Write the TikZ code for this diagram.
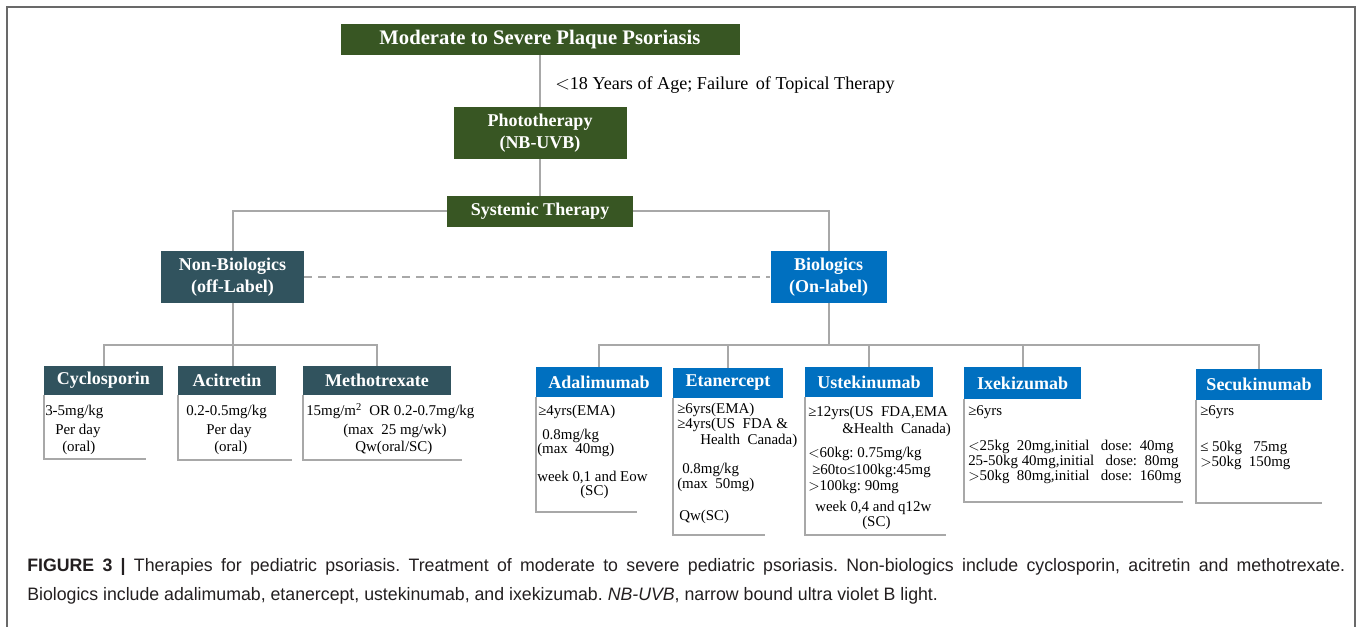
\documentclass[tikz,border=0pt]{standalone}
\usepackage{fontspec}
\setmainfont{Liberation Serif}
\newfontfamily\capfont[FakeStretch=0.985]{Liberation Sans}
\definecolor{boxgreen}{RGB}{56,86,35}
\definecolor{boxslate}{RGB}{49,83,94}
\definecolor{boxblue}{RGB}{0,112,192}
\definecolor{linkgray}{RGB}{168,168,168}
\definecolor{framegray}{RGB}{105,105,105}
\definecolor{captext}{RGB}{35,31,32}
\frenchspacing
\tikzset{
  sz/.style 2 args={minimum width=#1*0.75pt,minimum height=#2*0.75pt},
  box/.style={inner sep=0pt,align=center,text=white,font=\bfseries\fontsize{13.5}{16.5}\selectfont},
  txt/.style={anchor=west,inner sep=0pt,font=\fontsize{11.2}{13}\selectfont},
  link/.style={draw=linkgray,line width=1.5pt},
  textframe/.style={draw=linkgray,line width=1.3pt}
}

\begin{document}
\begin{tikzpicture}[line cap=butt,line join=miter,x=0.75pt,y=-0.75pt]
				\useasboundingbox (0,0) rectangle (1357,627);
				\draw [framegray,line width=1.2pt] (7,627) -- (7,7) -- (1355,7) -- (1355,627);
				% upper part
				\node [box,fill=boxgreen,sz={399}{31},font=\bfseries\fontsize{15.5}{18}\selectfont] (top) at (540,39.5) {Moderate to Severe Plaque Psoriasis};
				\node [box,fill=boxgreen,sz={173}{52}] (photo) at (540,133) {Phototherapy\\(NB-UVB)};
				\node [box,fill=boxgreen,sz={186}{31}] (sys) at (540,211.5) {Systemic Therapy};
				\node [anchor=west,inner sep=0pt,font=\fontsize{13.6}{15}\selectfont] (age) at (555,85) {$<$18 Years of Age; Failure\, of Topical Therapy};
				\node [box,fill=boxslate,sz={143}{52}] (nonbio) at (232.5,277) {Non-Biologics\\(off-Label)};
				\node [box,fill=boxblue,sz={116}{52}] (bio) at (828.5,277) {Biologics\\(On-label)};
				\draw [link] (top) -- (photo);
				\draw [link] (photo) -- (sys);
				\draw [link] (sys.west) -| (nonbio.north);
				\draw [link] (sys.east) -| (bio.north);
				\draw [link,dash pattern=on 6pt off 4.5pt] (nonbio.east) -- (bio.west);
				% non-biologics
				\node [box,fill=boxslate,sz={119}{29}] (cyc) at (103.5,380.5) {Cyclosporin};
				\node [box,fill=boxslate,sz={98}{29}] (aci) at (227,380.5) {Acitretin};
				\node [box,fill=boxslate,sz={148}{29}] (met) at (377,380.5) {Methotrexate};
				\coordinate (nbus) at (233,345);
				\draw [link] (nonbio.south) -- (nonbio.south |- aci.north);
				\draw [link] (cyc.north) -- (cyc.north |- nbus) -| (met.north);
				\draw [textframe] (cyc.south west) -- ++(0,64) -- ++(102,0);
				\draw [textframe] (aci.south west) -- ++(0,65) -- ++(114,0);
				\draw [textframe] (met.south west) -- ++(0,65) -- ++(159,0);
				\node [txt] (cyc1) at (45,412) {3-5mg/kg};
				\node [txt] (cyc2) at (55,431) {Per day};
				\node [txt] (cyc3) at (62,448) {(oral)};
				\node [txt] (aci1) at (186,412) {0.2-0.5mg/kg};
				\node [txt] (aci2) at (206,431) {Per day};
				\node [txt] (aci3) at (214,448) {(oral)};
				\node [txt] (met1) at (306,411) {15mg/m\textsuperscript{2}\ \ OR 0.2-0.7mg/kg};
				\node [txt] (met2) at (343,431) {(max\ \ 25 mg/wk)};
				\node [txt] (met3) at (355,448) {Qw(oral/SC)};
				% biologics
				\node [box,fill=boxblue,sz={126}{30}] (ada) at (599,382) {Adalimumab};
				\node [box,fill=boxblue,sz={110}{30}] (etan) at (728,383) {Etanercept};
				\node [box,fill=boxblue,sz={128}{30}] (uste) at (869,382) {Ustekinumab};
				\node [box,fill=boxblue,sz={117}{32}] (ixek) at (1022.5,383) {Ixekizumab};
				\node [box,fill=boxblue,sz={126}{31}] (secu) at (1259,384.5) {Secukinumab};
				\coordinate (bbus) at (828,345);
				\draw [link] (bio.south) -- (bio.south |- bbus);
				\draw [link] (ada.north) -- (ada.north |- bbus) -| (secu.north);
				\foreach \drug in {etan,uste,ixek}
					\draw [link] (\drug.north) -- (\drug.north |- bbus);
				\draw [textframe] (ada.south west) -- ++(0,115) -- ++(101,0);
				\draw [textframe] (etan.south west) -- ++(0,137) -- ++(92,0);
				\draw [textframe] (uste.south west) -- ++(0,138) -- ++(141,0);
				\draw [textframe] (ixek.south west) -- ++(0,103) -- ++(219,0);
				\draw [textframe] (secu.south west) -- ++(0,103) -- ++(126,0);
				\node [txt] (ada1) at (538,412) {≥4yrs(EMA)};
				\node [txt] (ada2) at (542,436) {0.8mg/kg};
				\node [txt] (ada3) at (537,450) {(max\ \ 40mg)};
				\node [txt] (ada4) at (537,477) {week 0,1 and Eow};
				\node [txt] (ada5) at (580,492) {(SC)};
				\node [txt] (etan1) at (677,410) {≥6yrs(EMA)};
				\node [txt] (etan2) at (677,425) {≥4yrs(US\ \ FDA \&};
				\node [txt] (etan3) at (700,441) {Health\ \ Canada)};
				\node [txt] (etan4) at (682,470) {0.8mg/kg};
				\node [txt] (etan5) at (677,485) {(max\ \ 50mg)};
				\node [txt] (etan6) at (679,517) {Qw(SC)};
				\node [txt] (uste1) at (808,413) {≥12yrs(US\ \ FDA,EMA};
				\node [txt] (uste2) at (842,430) {\&Health\ \ Canada)};
				\node [txt] (uste3) at (808,454) {$<$60kg: 0.75mg/kg};
				\node [txt] (uste4) at (812,471) {≥60to≤100kg:45mg};
				\node [txt] (uste5) at (808,487) {$>$100kg: 90mg};
				\node [txt] (uste6) at (815,508) {week 0,4 and q12w};
				\node [txt] (uste7) at (862,523) {(SC)};
				\node [txt] (ixek1) at (968,412) {≥6yrs};
				\node [txt] (ixek2) at (968,447) {$<$25kg\ \ 20mg,initial\ \ \ dose:\ \ 40mg};
				\node [txt] (ixek3) at (968,462) {25-50kg 40mg,initial\ \ \ dose:\ \ 80mg};
				\node [txt] (ixek4) at (968,477) {$>$50kg\ \ 80mg,initial\ \ \ dose:\ \ 160mg};
				\node [txt] (secu1) at (1200,412) {≥6yrs};
				\node [txt] (secu2) at (1200,448) {≤ 50kg\ \ \ 75mg};
				\node [txt] (secu3) at (1200,463) {$>$50kg\ \ 150mg};
				% caption
				\node [anchor=west,inner sep=0pt,text width=988.5pt,align=justify,text=captext,font=\capfont\fontsize{13.5}{21.75}\selectfont] (caption) at (27,581.5) {\textbf{FIGURE 3 |} Therapies for pediatric psoriasis. Treatment of moderate to severe pediatric psoriasis. Non-biologics include cyclosporin, acitretin and methotrexate.\linebreak Biologics include adalimumab, etanercept, ustekinumab, and ixekizumab. \textit{NB-UVB}, narrow bound ultra violet B light.};
			\end{tikzpicture}
\end{document}
